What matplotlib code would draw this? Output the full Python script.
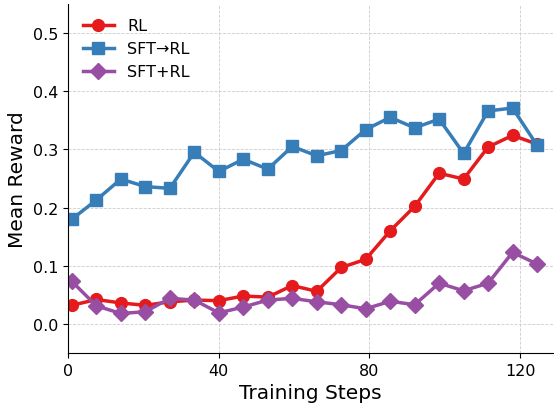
import matplotlib
matplotlib.use("Agg")
import matplotlib.pyplot as plt

steps = [1, 7.5, 14, 20.5, 27, 33.5, 40, 46.5, 53, 59.5,
         66, 72.5, 79, 85.5, 92, 98.5, 105, 111.5, 118, 124.5]

rl = [0.032, 0.042, 0.036, 0.032, 0.038, 0.041, 0.040, 0.048, 0.046, 0.066,
      0.056, 0.097, 0.111, 0.160, 0.202, 0.259, 0.249, 0.304, 0.324, 0.309]
sft_then_rl = [0.180, 0.213, 0.249, 0.236, 0.233, 0.295, 0.262, 0.283, 0.266, 0.305,
               0.289, 0.298, 0.334, 0.355, 0.337, 0.352, 0.293, 0.366, 0.371, 0.307]
sft_plus_rl = [0.073, 0.031, 0.018, 0.021, 0.044, 0.041, 0.019, 0.029, 0.041, 0.044,
               0.038, 0.033, 0.026, 0.039, 0.033, 0.070, 0.057, 0.070, 0.123, 0.103]

series = [
    ("RL", rl, "#e41a1c", "o"),
    ("SFT\u2192RL", sft_then_rl, "#377eb8", "s"),
    ("SFT+RL", sft_plus_rl, "#984ea3", "D"),
]

fig = plt.figure(figsize=(5.54, 4.06), dpi=100)
ax = fig.add_axes([0.123, 0.128, 0.875, 0.86])

for label, vals, color, marker in series:
    ax.plot(steps, vals, color=color, marker=marker, lw=2.5, ms=8.5, label=label)

ax.set_xlim(0, 128.7)
ax.set_ylim(-0.05, 0.55)
ax.set_xticks([0, 40, 80, 120])
ax.set_yticks([0.0, 0.1, 0.2, 0.3, 0.4, 0.5])
ax.tick_params(labelsize=11.5)
ax.set_xlabel("Training Steps", fontsize=14.5)
ax.set_ylabel("Mean Reward", fontsize=14.5)
ax.grid(True, ls="--", lw=0.6, color="#cccccc")
ax.spines["top"].set_visible(False)
ax.spines["right"].set_visible(False)
ax.legend(loc="upper left", frameon=False, fontsize=11.5)

fig.savefig("out.png", dpi=100)
